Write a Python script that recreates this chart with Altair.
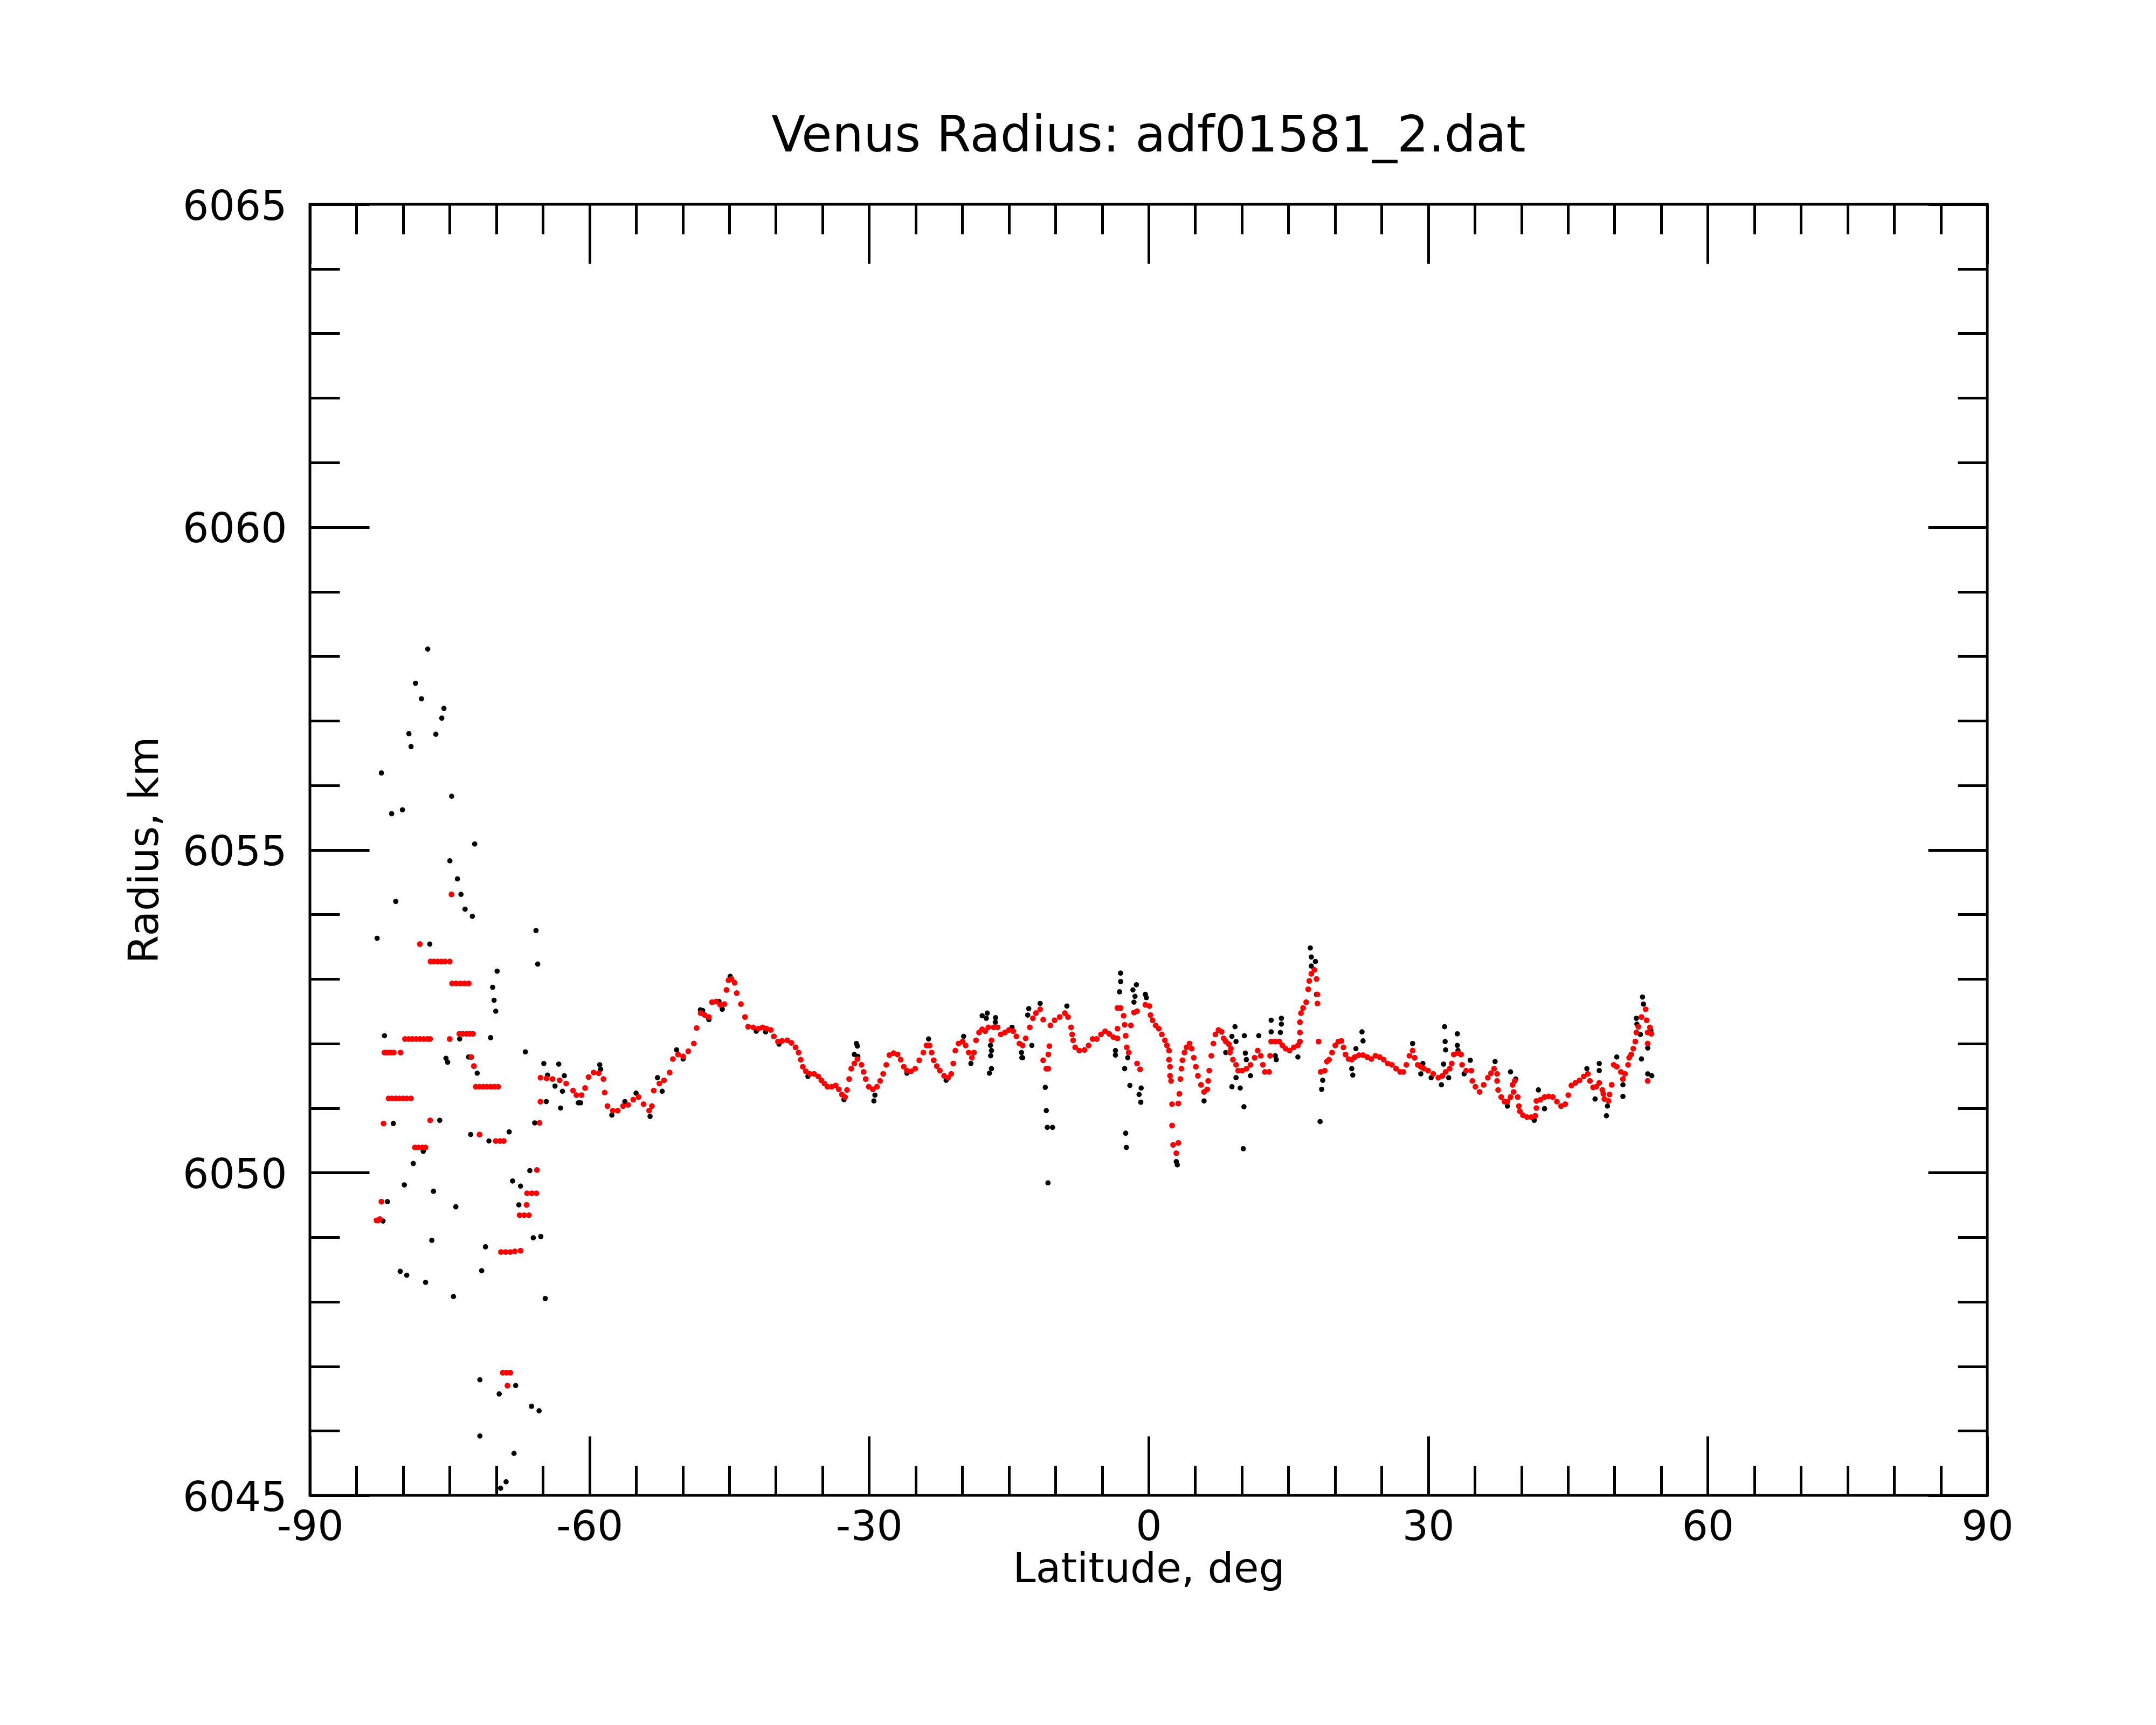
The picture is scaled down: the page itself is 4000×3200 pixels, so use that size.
import altair as alt
import pandas as pd

# ---- data: (latitude deg, radius km) ----
raw_points = [
    # scattered raw values, southern end
    (-82.79, 6053.63), (-80.79, 6054.20), (-82.00, 6052.12), (-81.05, 6050.76),
    (-81.68, 6049.55), (-82.16, 6049.25), (-80.31, 6048.47), (-79.61, 6048.41),
    (-78.91, 6050.14), (-79.87, 6049.81), (-77.84, 6050.33), (-77.88, 6050.39),
    (-77.59, 6048.30), (-77.14, 6053.54), (-76.92, 6048.95), (-76.74, 6049.71),
    (-76.07, 6050.81), (-74.98, 6054.83), (-74.17, 6054.55), (-73.79, 6054.31),
    (-73.35, 6054.08), (-72.57, 6053.97), (-75.40, 6051.77), (-75.22, 6051.71),
    (-73.93, 6052.07), (-72.97, 6051.79), (-72.05, 6051.54), (-72.75, 6050.59),
    (-74.34, 6049.47), (-74.60, 6048.08), (-71.16, 6048.85), (-71.57, 6048.48),
    (-70.79, 6050.49), (-70.61, 6052.09), (-69.91, 6053.12), (-70.39, 6052.87),
    (-70.24, 6052.67), (-70.06, 6052.50), (-68.62, 6050.63), (-68.25, 6049.87),
    (-67.40, 6049.79), (-67.58, 6049.50), (-66.88, 6051.87), (-66.03, 6048.99),
    (-65.22, 6049.01), (-65.74, 6053.75), (-65.56, 6053.23), (-64.75, 6048.05),
    (-66.40, 6050.03), (-65.88, 6050.77), (-64.64, 6051.10), (-71.76, 6046.79),
    (-69.69, 6046.57), (-67.92, 6046.70), (-66.22, 6046.38), (-65.41, 6046.31),
    (-71.76, 6045.92), (-68.10, 6045.65), (-68.95, 6045.21), (-69.54, 6045.11),
    (-77.36, 6058.11), (-78.67, 6057.58), (-78.03, 6057.34), (-75.62, 6057.19),
    (-75.85, 6057.04), (-79.38, 6056.80), (-76.49, 6056.79), (-79.15, 6056.60),
    (-82.33, 6056.19), (-74.79, 6055.83), (-80.07, 6055.62), (-81.23, 6055.56),
    (-72.32, 6055.09),
    # raw values along the continuous track
    (-64.90, 6051.69), (-64.50, 6051.51), (-63.30, 6051.68), (-63.70, 6051.34),
    (-62.90, 6051.26), (-63.10, 6051.00), (-62.70, 6051.50), (-61.20, 6051.08),
    (-60.95, 6051.08), (-58.90, 6051.67), (-58.80, 6051.60), (-57.60, 6050.89),
    (-56.20, 6051.10), (-55.00, 6051.23), (-53.50, 6050.87), (-52.70, 6051.47),
    (-52.20, 6051.26), (-50.65, 6051.90), (-49.95, 6051.76), (-48.10, 6052.52),
    (-47.20, 6052.38), (-46.10, 6052.65), (-44.90, 6053.04),
    (-47.85, 6052.51), (-47.18, 6052.37), (-45.75, 6052.53), (-42.10, 6052.19),
    (-41.10, 6052.18), (-39.66, 6051.99), (-36.56, 6051.49), (-32.69, 6051.13),
    (-31.36, 6052.00), (-31.25, 6051.96), (-31.58, 6051.83), (-31.20, 6051.80),
    (-29.37, 6051.20), (-29.48, 6051.11), (-25.94, 6051.54), (-23.61, 6052.07),
    (-21.73, 6051.43), (-19.85, 6052.11), (-19.07, 6051.69), (-17.86, 6052.43),
    (-17.31, 6052.47), (-17.42, 6052.39), (-16.42, 6052.40), (-16.45, 6052.33),
    (-16.97, 6051.97), (-16.86, 6051.89), (-16.95, 6051.81), (-16.86, 6051.61),
    (-17.08, 6051.54), (-14.65, 6052.25), (-13.65, 6051.86), (-13.60, 6051.78),
    (-12.86, 6052.54), (-12.97, 6052.44), (-12.53, 6051.97), (-13.52, 6051.78),
    (-11.64, 6052.62), (-11.09, 6051.32), (-10.98, 6050.96), (-10.87, 6050.70),
    (-10.31, 6050.70), (-10.80, 6049.84), (-8.77, 6052.58), (-3.01, 6053.09),
    (-3.00, 6052.96), (-3.12, 6052.80), (-1.31, 6052.91), (-1.68, 6052.83),
    (-1.46, 6052.73), (-1.57, 6052.64), (-0.35, 6052.76), (-0.24, 6052.71),
    (-2.57, 6051.61), (-2.01, 6051.35), (-2.46, 6050.61), (-2.39, 6050.39),
    (-0.80, 6051.31), (-1.02, 6051.21), (-0.84, 6051.09), (-3.56, 6051.89),
    (-3.56, 6051.82), (-2.24, 6051.78), (2.97, 6050.17), (3.08, 6050.12),
    (5.95, 6051.11), (9.27, 6052.26), (10.27, 6052.12), (11.82, 6052.12),
    (10.38, 6051.85), (8.94, 6051.33), (9.83, 6051.31), (10.23, 6051.02),
    (10.16, 6050.37), (13.15, 6052.36), (14.25, 6052.39), (14.25, 6052.30),
    (13.15, 6052.18), (14.14, 6052.17), (13.59, 6051.81), (13.70, 6051.75),
    (16.02, 6051.79), (17.35, 6053.48), (17.46, 6053.34), (17.90, 6053.27),
    (17.46, 6053.20), (18.02, 6052.76), (18.68, 6051.43), (18.57, 6051.29),
    (18.40, 6050.79), (9.38, 6052.03), (8.94, 6052.11), (8.28, 6051.86),
    (10.49, 6051.75), (10.93, 6051.50), (9.38, 6051.47),
    (22.90, 6052.18), (23.01, 6052.04), (22.24, 6051.92), (21.80, 6051.61),
    (21.91, 6051.51), (28.33, 6052.00), (29.43, 6051.69), (29.21, 6051.53),
    (31.76, 6052.26), (31.82, 6052.03), (31.87, 6051.90), (31.65, 6051.68),
    (31.42, 6051.36), (33.13, 6052.15), (33.13, 6051.97), (33.20, 6051.89),
    (34.52, 6051.74), (32.20, 6051.47), (37.18, 6051.72), (33.86, 6051.53),
    (30.32, 6051.47), (38.84, 6051.56), (39.39, 6051.45), (38.51, 6051.03),
    (41.83, 6051.28), (42.49, 6050.99), (41.38, 6050.81), (47.03, 6051.61),
    (48.36, 6051.69), (48.36, 6051.58), (47.91, 6051.14), (49.24, 6051.03),
    (49.13, 6050.88), (50.24, 6051.79), (50.90, 6051.18), (50.90, 6051.36),
    (53.00, 6052.72), (53.10, 6052.61), (52.34, 6052.39), (52.40, 6052.30),
    (52.78, 6052.14), (52.89, 6051.76), (53.56, 6051.53), (53.56, 6051.93),
    (54.00, 6051.50), (53.90, 6052.20),
]

fit_points = [
    # stepped values at the southern end
    (-82.86, 6049.26), (-82.68, 6049.26), (-82.50, 6049.28), (-82.33, 6049.55),
    (-82.10, 6050.76),
    (-82.00, 6051.86), (-81.75, 6051.86), (-81.50, 6051.86), (-81.25, 6051.86),
    (-81.00, 6051.86), (-80.27, 6051.86),
    (-81.56, 6051.15), (-81.20, 6051.15), (-80.80, 6051.15), (-80.40, 6051.15),
    (-80.00, 6051.15), (-79.60, 6051.15), (-79.16, 6051.15),
    (-79.80, 6052.07), (-79.40, 6052.07), (-79.00, 6052.07), (-78.60, 6052.07),
    (-78.20, 6052.07), (-77.80, 6052.07), (-77.40, 6052.07), (-77.10, 6052.07),
    (-78.73, 6050.39), (-78.35, 6050.39), (-77.95, 6050.39), (-77.60, 6050.39),
    (-78.20, 6053.54), (-77.10, 6050.81),
    (-77.06, 6053.27), (-76.70, 6053.27), (-76.30, 6053.27), (-75.90, 6053.27),
    (-75.50, 6053.27), (-75.00, 6053.27),
    (-74.81, 6054.31), (-75.00, 6052.07),
    (-74.74, 6052.93), (-74.30, 6052.93), (-73.85, 6052.93), (-73.40, 6052.93),
    (-72.96, 6052.93),
    (-73.97, 6052.15), (-73.60, 6052.15), (-73.20, 6052.15), (-72.85, 6052.15),
    (-72.50, 6052.15),
    (-72.68, 6051.79), (-72.40, 6051.65),
    (-72.20, 6051.33), (-71.80, 6051.33), (-71.40, 6051.33), (-71.00, 6051.33),
    (-70.60, 6051.33), (-70.20, 6051.33), (-69.80, 6051.33),
    (-71.80, 6050.59),
    (-70.06, 6050.49), (-69.60, 6050.49), (-69.20, 6050.49),
    (-69.50, 6048.77), (-69.00, 6048.77), (-68.50, 6048.77), (-68.00, 6048.78),
    (-67.40, 6048.79),
    (-69.30, 6046.90), (-68.90, 6046.90), (-68.50, 6046.90), (-68.80, 6046.70),
    (-67.50, 6049.34), (-67.00, 6049.34), (-66.50, 6049.34), (-66.75, 6049.50),
    (-66.70, 6049.68), (-66.20, 6049.68), (-65.70, 6049.68),
    (-65.64, 6050.04), (-65.36, 6050.77), (-65.26, 6051.10),
    # continuous track
    (-65.26, 6051.47), (-64.60, 6051.46), (-63.97, 6051.45), (-63.20, 6051.43),
    (-62.50, 6051.38), (-61.76, 6051.27), (-61.40, 6051.20), (-60.85, 6051.20),
    (-60.47, 6051.31), (-60.10, 6051.48), (-59.55, 6051.55), (-59.00, 6051.54),
    (-58.50, 6051.45), (-58.37, 6051.24), (-58.07, 6051.03), (-57.50, 6050.96),
    (-56.97, 6050.96), (-56.40, 6051.03), (-55.85, 6051.05), (-55.30, 6051.13),
    (-54.74, 6051.17), (-54.20, 6051.06), (-53.60, 6050.96), (-53.30, 6051.03),
    (-53.10, 6051.27), (-52.50, 6051.38), (-52.00, 6051.43), (-51.40, 6051.55),
    (-51.05, 6051.76), (-50.50, 6051.83), (-49.95, 6051.80), (-49.40, 6051.88),
    (-48.80, 6052.00), (-48.50, 6052.24),
    (-48.07, 6052.47), (-47.63, 6052.44), (-47.18, 6052.41), (-46.85, 6052.64),
    (-46.41, 6052.65), (-45.97, 6052.60), (-45.52, 6052.61), (-45.30, 6052.83),
    (-45.08, 6052.98), (-44.75, 6053.00), (-44.42, 6052.94), (-44.20, 6052.78),
    (-43.75, 6052.61), (-43.31, 6052.41), (-42.98, 6052.26), (-42.43, 6052.25),
    (-41.87, 6052.23), (-41.43, 6052.25), (-40.99, 6052.23), (-40.54, 6052.21),
    (-40.21, 6052.11), (-39.77, 6052.03), (-39.33, 6052.04), (-38.77, 6052.05),
    (-38.33, 6052.01), (-37.89, 6051.94), (-37.56, 6051.86), (-37.33, 6051.75),
    (-37.11, 6051.64), (-36.78, 6051.57), (-36.34, 6051.53), (-35.90, 6051.53),
    (-35.45, 6051.49), (-35.12, 6051.43), (-34.79, 6051.38), (-34.46, 6051.33),
    (-34.02, 6051.33), (-33.57, 6051.35), (-33.24, 6051.29), (-32.91, 6051.21),
    (-32.58, 6051.17), (-32.36, 6051.28), (-32.13, 6051.45), (-31.91, 6051.61),
    (-31.58, 6051.69), (-31.25, 6051.76), (-30.81, 6051.67), (-30.58, 6051.56),
    (-30.36, 6051.45), (-30.03, 6051.33), (-29.59, 6051.29), (-29.15, 6051.33),
    (-28.81, 6051.42), (-28.48, 6051.53), (-28.15, 6051.67), (-27.82, 6051.82),
    (-27.37, 6051.85), (-26.93, 6051.83), (-26.60, 6051.75), (-26.27, 6051.64),
    (-25.94, 6051.58), (-25.49, 6051.57), (-25.05, 6051.61), (-24.61, 6051.74),
    (-24.17, 6051.86), (-23.83, 6051.97), (-23.50, 6051.97), (-23.28, 6051.86),
    (-23.06, 6051.74), (-22.73, 6051.65), (-22.40, 6051.58), (-21.95, 6051.50),
    (-21.51, 6051.47), (-21.18, 6051.53), (-20.96, 6051.69), (-20.74, 6051.89),
    (-20.40, 6052.00), (-19.96, 6052.03), (-19.63, 6051.97), (-19.30, 6051.86),
    (-18.96, 6051.78), (-18.74, 6051.86), (-18.52, 6052.05), (-18.19, 6052.17),
    (-17.86, 6052.22), (-17.53, 6052.19), (-17.20, 6052.25), (-16.86, 6052.05),
    (-16.64, 6052.25), (-16.20, 6052.25), (-15.87, 6052.14), (-15.42, 6052.17),
    (-14.98, 6052.21),
    (-14.52, 6052.19), (-14.19, 6052.11), (-13.86, 6052.00), (-13.52, 6051.97),
    (-13.19, 6052.08), (-12.75, 6052.25), (-12.42, 6052.39), (-12.09, 6052.47),
    (-11.64, 6052.53), (-11.31, 6052.37), (-10.65, 6051.96), (-10.76, 6051.83),
    (-11.31, 6051.74), (-10.98, 6051.61), (-10.76, 6051.61), (-10.54, 6052.28),
    (-10.09, 6052.36), (-9.54, 6052.41), (-8.99, 6052.47), (-8.65, 6052.41),
    (-8.32, 6052.25), (-8.21, 6052.14), (-8.10, 6052.05), (-7.88, 6051.94),
    (-7.44, 6051.89), (-6.88, 6051.90), (-6.44, 6051.97), (-6.00, 6052.07),
    (-5.56, 6052.07), (-5.11, 6052.14), (-4.67, 6052.19), (-4.23, 6052.15),
    (-3.79, 6052.10), (-3.34, 6052.08), (-3.34, 6052.23), (-3.34, 6052.55),
    (-3.01, 6052.55), (-2.68, 6052.43), (-2.57, 6052.29), (-2.46, 6052.12),
    (-2.35, 6051.94), (-2.13, 6051.86), (-1.90, 6052.28), (-1.57, 6052.48),
    (-1.24, 6052.50), (-1.24, 6051.69), (-0.91, 6051.60), (-0.35, 6052.60),
    (0.09, 6052.58), (0.20, 6052.44), (0.42, 6052.36), (0.75, 6052.28),
    (1.09, 6052.23), (1.42, 6052.14), (1.75, 6052.05), (1.97, 6051.97),
    (2.19, 6051.89), (2.19, 6051.75), (2.30, 6051.64), (2.30, 6051.50),
    (2.41, 6051.42), (2.52, 6051.06), (2.52, 6050.73), (2.63, 6050.43),
    (2.97, 6050.30), (3.19, 6050.46), (3.19, 6051.07), (3.30, 6051.22),
    (3.41, 6051.45), (3.52, 6051.61), (3.63, 6051.74), (3.85, 6051.86),
    (4.07, 6051.94), (4.40, 6052.00), (4.63, 6051.92), (4.85, 6051.78),
    (5.07, 6051.64), (5.29, 6051.50), (5.62, 6051.36), (5.95, 6051.25),
    (6.29, 6051.29), (6.40, 6051.42), (6.51, 6051.58), (6.73, 6051.81),
    (6.95, 6052.00), (7.17, 6052.14), (7.50, 6052.21), (7.84, 6052.18),
    (8.06, 6052.08), (8.28, 6052.03), (8.61, 6051.99), (8.83, 6051.92),
    (8.72, 6051.86), (9.05, 6051.75), (9.39, 6051.67), (9.61, 6051.58),
    (10.05, 6051.58), (10.50, 6051.61), (10.93, 6051.67), (11.38, 6051.78),
    (11.71, 6051.89), (12.04, 6051.81), (12.26, 6051.67), (12.48, 6051.56),
    (12.93, 6051.56), (13.04, 6051.81), (13.15, 6052.03), (13.59, 6052.03),
    (14.03, 6052.03), (14.36, 6051.97), (14.70, 6051.92), (15.14, 6051.89),
    (15.58, 6051.94), (16.02, 6051.97), (16.24, 6052.03), (16.24, 6052.17),
    (16.24, 6052.33), (16.35, 6052.47), (16.58, 6052.55), (16.91, 6052.64),
    (17.13, 6052.84), (17.24, 6052.97), (17.46, 6053.08), (17.79, 6053.14),
    (18.02, 6053.00), (18.12, 6052.76), (18.12, 6052.62), (18.24, 6052.03),
    (18.46, 6051.56), (18.90, 6051.58), (19.12, 6051.72),
    (19.36, 6051.75), (19.69, 6051.86), (20.03, 6051.97), (20.36, 6052.03),
    (20.69, 6052.04), (20.91, 6051.94), (21.13, 6051.83), (21.46, 6051.76),
    (21.80, 6051.75), (22.13, 6051.79), (22.57, 6051.82), (23.01, 6051.82),
    (23.46, 6051.79), (23.90, 6051.76), (24.34, 6051.81), (24.79, 6051.79),
    (25.23, 6051.75), (25.67, 6051.69), (26.11, 6051.67), (26.56, 6051.61),
    (27.00, 6051.56), (27.33, 6051.56), (27.66, 6051.67), (27.99, 6051.81),
    (28.33, 6051.89), (28.55, 6051.78), (28.88, 6051.67), (29.21, 6051.64),
    (29.54, 6051.61), (29.99, 6051.58), (30.54, 6051.53), (31.09, 6051.47),
    (31.54, 6051.50), (31.87, 6051.56), (32.31, 6051.61), (32.53, 6051.69),
    (32.75, 6051.83), (33.20, 6051.85), (33.53, 6051.83), (33.64, 6051.67),
    (34.08, 6051.58), (34.63, 6051.58), (34.74, 6051.42), (35.08, 6051.33),
    (35.52, 6051.25), (35.96, 6051.36), (36.40, 6051.47), (36.74, 6051.54),
    (37.07, 6051.61), (37.40, 6051.53), (37.40, 6051.42), (37.51, 6051.28),
    (37.84, 6051.17), (38.18, 6051.10), (38.51, 6051.10), (38.84, 6051.17),
    (39.06, 6051.36), (39.17, 6051.25), (39.28, 6051.42), (39.61, 6051.17),
    (39.73, 6051.03), (39.84, 6050.95), (40.17, 6050.89), (40.61, 6050.86),
    (41.05, 6050.86), (41.50, 6050.88), (41.61, 6051.00), (41.61, 6051.11),
    (42.05, 6051.13), (42.49, 6051.17), (42.93, 6051.18), (43.38, 6051.17),
    (43.82, 6051.10), (44.26, 6051.03), (44.71, 6051.06), (45.04, 6051.20),
    (45.37, 6051.35), (45.81, 6051.39), (46.25, 6051.43), (46.70, 6051.49),
    (47.14, 6051.53), (47.36, 6051.42), (47.70, 6051.32), (48.03, 6051.33),
    (48.36, 6051.39), (48.69, 6051.28), (48.80, 6051.22), (48.91, 6051.14),
    (49.35, 6051.11), (49.46, 6051.21), (49.69, 6051.36), (49.91, 6051.67),
    (50.24, 6051.64), (50.68, 6051.56), (50.90, 6051.45), (51.12, 6051.53),
    (51.45, 6051.67), (51.57, 6051.78), (51.79, 6051.83), (52.01, 6051.92),
    (52.23, 6052.03), (52.34, 6052.17), (52.56, 6052.26), (52.89, 6052.41),
    (53.34, 6052.53), (53.45, 6052.36), (53.56, 6052.17), (53.56, 6052.00),
    (53.56, 6051.42), (53.80, 6052.25), (53.95, 6052.15),
]

x_major = [-90, -60, -30, 0, 30, 60, 90]
x_minor = [-90, -85, -80, -75, -70, -65, -60, -55, -50, -45, -40, -35, -30, -25,
           -20, -15, -10, -5, 0, 5, 10, 15, 20, 25, 30, 35, 40, 45, 50, 55, 60,
           65, 70, 75, 80, 85, 90]
y_major = [6045, 6050, 6055, 6060, 6065]
y_minor = [6045, 6046, 6047, 6048, 6049, 6050, 6051, 6052, 6053, 6054, 6055,
           6056, 6057, 6058, 6059, 6060, 6061, 6062, 6063, 6064, 6065]

W, H = 3112, 2395
FONT = "DejaVu Sans"

raw = pd.DataFrame(raw_points, columns=["lat", "radius"])
fit = pd.DataFrame(fit_points, columns=["lat", "radius"])

xsc = alt.Scale(domain=[-90, 90], nice=False, zero=False)
ysc = alt.Scale(domain=[6045, 6065], nice=False, zero=False)


def tick_axis(orient, offset, values, size):
    return alt.Axis(orient=orient, offset=offset, values=values, tickSize=size,
                    ticks=True, labels=False, title="", domain=False, grid=False)


label_x = alt.Axis(orient="bottom", values=x_major, ticks=False, tickSize=0,
                   labelPadding=22, labelFlush=False, labelOverlap=False,
                   labelLimit=0, labelExpr="'' + datum.value", domain=False,
                   grid=False, title="Latitude, deg", titleX=W / 2, titleY=160,
                   titleAlign="center", titleBaseline="alphabetic")
label_y = alt.Axis(orient="left", values=y_major, ticks=False, tickSize=0,
                   labelPadding=43, labelFlush=False, labelOverlap=False,
                   labelLimit=0, labelOffset=5, labelExpr="'' + datum.value",
                   domain=False, grid=False, title="Radius, km", titleX=-283,
                   titleY=H / 2, titleAngle=270, titleAlign="center",
                   titleBaseline="alphabetic")

black = alt.Chart(raw).mark_circle(size=95, color="#000000", opacity=1).encode(
    x=alt.X("lat:Q", scale=xsc, axis=label_x),
    y=alt.Y("radius:Q", scale=ysc, axis=label_y),
)
red = alt.Chart(fit).mark_circle(size=115, color="#ff0000", opacity=1).encode(
    x=alt.X("lat:Q", scale=xsc, axis=tick_axis("top", -H, x_major, 110)),
    y=alt.Y("radius:Q", scale=ysc, axis=tick_axis("left", -W, y_major, 110)),
)
g3 = alt.Chart(fit).mark_circle(opacity=0).encode(
    x=alt.X("lat:Q", scale=xsc, axis=tick_axis("bottom", -H, x_major, 110)),
    y=alt.Y("radius:Q", scale=ysc, axis=tick_axis("right", -W, y_major, 110)),
)
g4 = alt.Chart(fit).mark_circle(opacity=0).encode(
    x=alt.X("lat:Q", scale=xsc, axis=tick_axis("top", -H, x_minor, 55)),
    y=alt.Y("radius:Q", scale=ysc, axis=tick_axis("left", -W, y_minor, 55)),
)
g5 = alt.Chart(fit).mark_circle(opacity=0).encode(
    x=alt.X("lat:Q", scale=xsc, axis=tick_axis("bottom", -H, x_minor, 55)),
    y=alt.Y("radius:Q", scale=ysc, axis=tick_axis("right", -W, y_minor, 55)),
)

chart = (
    alt.layer(black, red, g3, g4, g5)
    .resolve_axis(x="independent", y="independent")
    .properties(
        width=W,
        height=H,
        autosize=alt.AutoSizeParams(type="none"),
        padding={"left": 567, "top": 371, "right": 305, "bottom": 418},
        title=alt.TitleParams(
            text="Venus Radius: adf01581_2.dat", fontSize=92, fontWeight="normal",
            font=FONT, color="black", anchor="middle", frame="group",
            baseline="alphabetic", offset=-27,
        ),
    )
    .configure(font=FONT, background="white")
    .configure_view(stroke="black", strokeWidth=5)
    .configure_axis(
        grid=False, domain=False, tickColor="black", tickWidth=5,
        labelColor="black", titleColor="black", labelFont=FONT, titleFont=FONT,
        labelFontSize=76, titleFontSize=76, titleFontWeight="normal",
    )
)

chart.save("out.html", embed_options={"renderer": "svg", "actions": False})
